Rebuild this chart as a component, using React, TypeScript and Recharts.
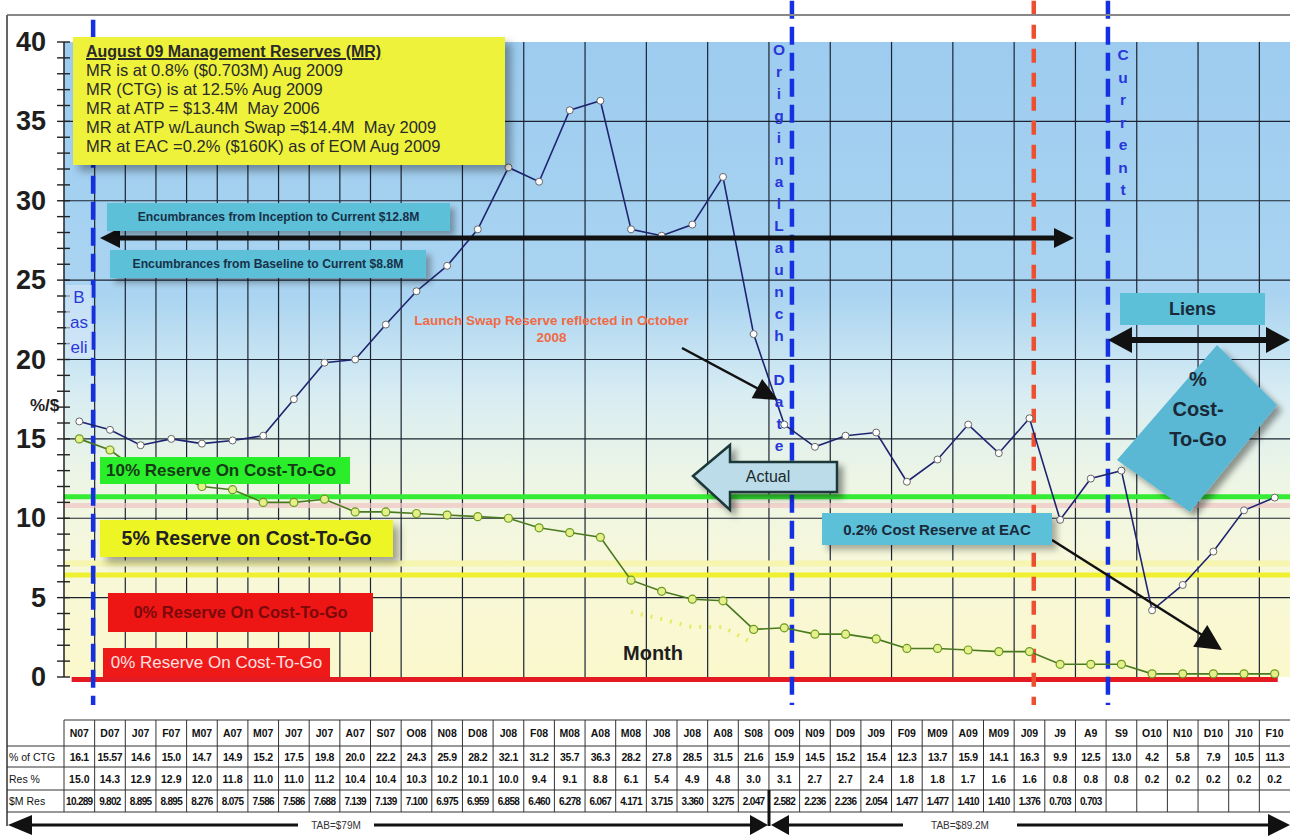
import React from 'react';
import { ComposedChart, Line, XAxis, YAxis, CartesianGrid, ReferenceLine } from 'recharts';

// month labels as printed in the table under the chart
const months = ['N07', 'D07', 'J07', 'F07', 'M07', 'A07', 'M07', 'J07', 'J07', 'A07', 'S07', 'O08', 'N08', 'D08', 'J08', 'F08', 'M08', 'A08', 'M08', 'J08', 'J08', 'A08', 'S08', 'O09', 'N09', 'D09', 'J09', 'F09', 'M09', 'A09', 'M09', 'J09', 'J9', 'A9', 'S9', 'O10', 'N10', 'D10', 'J10', 'F10'];
// % of cost-to-go
const pctCtg = [16.1, 15.57, 14.6, 15.0, 14.7, 14.9, 15.2, 17.5, 19.8, 20.0, 22.2, 24.3, 25.9, 28.2, 32.1, 31.2, 35.7, 36.3, 28.2, 27.8, 28.5, 31.5, 21.6, 15.9, 14.5, 15.2, 15.4, 12.3, 13.7, 15.9, 14.1, 16.3, 9.9, 12.5, 13.0, 4.2, 5.8, 7.9, 10.5, 11.3];
// reserve %
const resPct = [15.0, 14.3, 12.9, 12.9, 12.0, 11.8, 11.0, 11.0, 11.2, 10.4, 10.4, 10.3, 10.2, 10.1, 10.0, 9.4, 9.1, 8.8, 6.1, 5.4, 4.9, 4.8, 3.0, 3.1, 2.7, 2.7, 2.4, 1.8, 1.8, 1.7, 1.6, 1.6, 0.8, 0.8, 0.8, 0.2, 0.2, 0.2, 0.2, 0.2];
// $M reserve (blank after A9)
const resM = ['10.289', '9.802', '8.895', '8.895', '8.276', '8.075', '7.586', '7.586', '7.688', '7.139', '7.139', '7.100', '6.975', '6.959', '6.858', '6.460', '6.278', '6.067', '4.171', '3.715', '3.360', '3.275', '2.047', '2.582', '2.236', '2.236', '2.054', '1.477', '1.477', '1.410', '1.410', '1.376', '0.703', '0.703', '', '', '', '', '', ''];
// faint projected reserve line (M08..S08)
const ghostStart = 18;
const ghostRes = [4.1, 3.65, 3.15, 3.15, 2.1];

const yTicks = Array.from({ length: 41 }, (_, i) => i);
const gridY = [5, 10, 15, 20, 25, 30, 35];
const gridX = months.slice(1).map((_, i) => i + 0.5);

const data = months.map((m, i) => ({
  i,
  month: m,
  ctg: pctCtg[i],
  res: resPct[i],
  ghost: i >= ghostStart && i < ghostStart + ghostRes.length ? ghostRes[i - ghostStart] : null,
}));

const fmt = (v: number) => (v.toFixed(2).endsWith('0') ? v.toFixed(1) : v.toFixed(2));

const FONT = 'Arial, "Liberation Sans", sans-serif';
const TEAL = '#5cc0d8';

const YTick = ({ x, y, payload }: any) => (
  <g>
    <line x1={x - 7} x2={x + 6} y1={y} y2={y} stroke="#222" strokeWidth={1.4} />
    {payload.value % 5 === 0 && (
      <text x={46} y={y} dy={9} textAnchor="end" fontSize={27} fontWeight="bold" fill="#1e1e1e" fontFamily={FONT}>
        {payload.value}
      </text>
    )}
  </g>
);

function head(x1: number, y1: number, x2: number, y2: number, len: number, half: number) {
  const d = Math.hypot(x2 - x1, y2 - y1);
  const ux = (x2 - x1) / d;
  const uy = (y2 - y1) / d;
  const bx = x2 - ux * len;
  const by = y2 - uy * len;
  return `${x2},${y2} ${bx - uy * half},${by + ux * half} ${bx + uy * half},${by - ux * half}`;
}

const box = (extra: React.CSSProperties): React.CSSProperties => ({
  position: 'absolute',
  display: 'flex',
  alignItems: 'center',
  justifyContent: 'center',
  whiteSpace: 'nowrap',
  ...extra,
});

const colX = (k: number) => 64 + k * 30.65;
const rowY = [720, 746, 767, 790, 812];

export default function App() {
  const vDash = (x: number, color: string, dash: string, top = 42.6) => (
    <ReferenceLine
      segment={[{ x, y: top }, { x, y: -1.76 }]}
      stroke={color}
      strokeWidth={4.5}
      strokeDasharray={dash}
      ifOverflow="visible"
    />
  );

  return (
    <div style={{ position: 'absolute', left: 0, top: 0, width: 1290, height: 836, background: '#fff', fontFamily: FONT, overflow: 'hidden' }}>
      <div style={{ position: 'absolute', left: 0, top: 0 }}>
        <ComposedChart width={1290} height={720} data={data} margin={{ top: 42, right: 0, bottom: 43, left: 0 }}>
          <defs>
            <linearGradient id="bgGrad" x1="0" y1="0" x2="0" y2="1">
              <stop offset="0" stopColor="#9dccf0" />
              <stop offset="0.4" stopColor="#aad4f1" />
              <stop offset="0.55" stopColor="#d7ecf3" />
              <stop offset="0.68" stopColor="#ecf5e6" />
              <stop offset="0.82" stopColor="#f7f8da" />
              <stop offset="1" stopColor="#fbf8cc" />
            </linearGradient>
          </defs>
          <CartesianGrid
            fill="url(#bgGrad)"
            fillOpacity={1}
            stroke="#1c2433"
            strokeWidth={1.2}
            horizontalValues={gridY}
            verticalValues={gridX}
          />
          <XAxis type="number" dataKey="i" domain={[-0.5, 39.5]} hide />
          <YAxis
            type="number"
            domain={[0, 40]}
            ticks={yTicks}
            interval={0}
            width={64}
            tick={<YTick />}
            tickLine={false}
            tickSize={0}
            tickMargin={0}
            axisLine={{ stroke: '#222', strokeWidth: 1.5 }}
          />
          <ReferenceLine y={10.8} stroke="#f0c4c4" strokeWidth={5} strokeOpacity={0.7} />
          <ReferenceLine y={11.35} stroke="#35ec35" strokeWidth={5} />
          <ReferenceLine y={7.15} stroke="#f6f6b0" strokeWidth={6} />
          <ReferenceLine y={6.43} stroke="#eef030" strokeWidth={5} />
          <ReferenceLine
            segment={[{ x: -0.25, y: -0.15 }, { x: 39.1, y: -0.15 }]}
            stroke="#e41a22"
            strokeWidth={5}
            ifOverflow="visible"
          />
          {vDash(0.45, '#1530e0', '18 8', 41.4)}
          {vDash(23.25, '#1530e0', '18 8')}
          {vDash(31.14, '#ec5030', '14 10')}
          {vDash(33.56, '#1530e0', '18 8')}
          <Line
            dataKey="ghost"
            stroke="#e6ea60"
            strokeWidth={4}
            strokeDasharray="2 8"
            dot={false}
            connectNulls={false}
            isAnimationActive={false}
          />
          <Line
            dataKey="res"
            stroke="#4a7a20"
            strokeWidth={1.6}
            dot={{ r: 4, fill: '#e6f08a', stroke: '#6a9a20', strokeWidth: 1.2 }}
            isAnimationActive={false}
          />
          <Line
            dataKey="ctg"
            stroke="#1f2470"
            strokeWidth={1.6}
            dot={{ r: 3.5, fill: '#fff', stroke: '#666', strokeWidth: 1 }}
            isAnimationActive={false}
          />
        </ComposedChart>
      </div>

      <svg width={1290} height={836} style={{ position: 'absolute', left: 0, top: 0, pointerEvents: 'none' }}>
        <defs>
          <filter id="sh" x="-20%" y="-20%" width="150%" height="150%">
            <feDropShadow dx="5" dy="5" stdDeviation="3" floodOpacity="0.4" />
          </filter>
        </defs>
        {/* frame */}
        <line x1={7} y1={15} x2={1290} y2={15} stroke="#888" strokeWidth={2} />
        <line x1={7} y1={15} x2={7} y2={826} stroke="#666" strokeWidth={2} />

        {/* encumbrance arrow */}
        <line x1={116} y1={238} x2={1058} y2={238} stroke="#111" strokeWidth={5} />
        <polygon points={head(1058, 238, 100, 238, 20, 10)} fill="#111" />
        <polygon points={head(116, 238, 1074, 238, 20, 10)} fill="#111" />

        {/* launch swap arrow */}
        <line x1={682} y1={348} x2={770} y2={395} stroke="#111" strokeWidth={2.5} />
        <polygon points={head(682, 348, 778, 400, 24, 11)} fill="#111" />

        {/* 0.2% arrow */}
        <line x1={1052} y1={540} x2={1210} y2={640} stroke="#111" strokeWidth={2.5} />
        <polygon points={head(1052, 540, 1222, 650, 26, 13)} fill="#111" />

        {/* liens arrow */}
        <line x1={1125} y1={340} x2={1272} y2={340} stroke="#111" strokeWidth={6} />
        <polygon points={head(1200, 340, 1108, 340, 24, 13)} fill="#111" />
        <polygon points={head(1200, 340, 1290, 340, 24, 13)} fill="#111" />

        {/* actual block arrow */}
        <polygon
          points="693,476 730,445 730,462 837,462 837,492 730,492 730,510"
          fill="#bcdcea"
          stroke="#1a3838"
          strokeWidth={2.5}
          filter="url(#sh)"
        />
        <text x={768} y={482} textAnchor="middle" fontSize={16} fill="#1a2a2a" fontFamily={FONT}>Actual</text>

        {/* % cost-to-go tile */}
        <polygon points="1117,460 1217,345 1277,405 1190,512" fill="#5ab8d4" filter="url(#sh)" />

        {/* table */}
        <g fontFamily={FONT} fontWeight="bold" fill="#111">
          <line x1={colX(0)} y1={rowY[0]} x2={1290} y2={rowY[0]} stroke="#333" />
          {rowY.slice(1).map((y) => (
            <line key={y} x1={7} y1={y} x2={1290} y2={y} stroke="#333" />
          ))}
          {months.map((_, k) => (
            <line key={k} x1={colX(k)} y1={rowY[0]} x2={colX(k)} y2={rowY[4]} stroke="#333" />
          ))}
          {months.map((m, k) => (
            <text key={'m' + k} x={colX(k) + 15.3} y={737} textAnchor="middle" fontSize={10.5}>{m}</text>
          ))}
          {pctCtg.map((v, k) => (
            <text key={'c' + k} x={colX(k) + 15.3} y={761} textAnchor="middle" fontSize={10.5} letterSpacing={-0.3}>{fmt(v)}</text>
          ))}
          {resPct.map((v, k) => (
            <text key={'r' + k} x={colX(k) + 15.3} y={783} textAnchor="middle" fontSize={10.5}>{v.toFixed(1)}</text>
          ))}
          {resM.map((v, k) => (
            <text key={'s' + k} x={colX(k) + 15.3} y={805} textAnchor="middle" fontSize={10} letterSpacing={-0.7}>{v}</text>
          ))}
          <text x={9} y={761} fontSize={10.5} fontWeight="normal">% of CTG</text>
          <text x={9} y={783} fontSize={10.5} fontWeight="normal">Res %</text>
          <text x={9} y={805} fontSize={10.5} fontWeight="normal">$M Res</text>
        </g>

        {/* TAB arrows */}
        <line x1={26} y1={825} x2={298} y2={825} stroke="#111" strokeWidth={3} />
        <line x1={374} y1={825} x2={752} y2={825} stroke="#111" strokeWidth={3} />
        <polygon points={head(40, 825, 8, 825, 24, 10)} fill="#111" />
        <polygon points={head(700, 825, 768, 825, 18, 10)} fill="#111" />
        <line x1={769} y1={790} x2={769} y2={826} stroke="#111" strokeWidth={3} />
        <polygon points={head(840, 825, 771, 825, 18, 10)} fill="#111" />
        <line x1={788} y1={825} x2={903} y2={825} stroke="#111" strokeWidth={3} />
        <line x1={1017} y1={825} x2={1270} y2={825} stroke="#111" strokeWidth={3} />
        <polygon points={head(1200, 825, 1290, 825, 22, 11)} fill="#111" />
        <text x={336} y={829} textAnchor="middle" fontSize={10} fill="#333" fontFamily={FONT}>TAB=$79M</text>
        <text x={960} y={829} textAnchor="middle" fontSize={10} fill="#333" fontFamily={FONT}>TAB=$89.2M</text>
      </svg>

      {/* MR summary */}
      <div
        style={{
          position: 'absolute',
          left: 73,
          top: 37,
          width: 432,
          height: 128,
          background: '#eef23a',
          boxShadow: '6px 6px 8px rgba(0,0,0,0.35)',
          padding: '5px 0 0 13px',
          boxSizing: 'border-box',
          color: '#2a2a2a',
          fontSize: 16.5,
          lineHeight: '19px',
          whiteSpace: 'nowrap',
        }}
      >
        <div style={{ fontWeight: 'bold', fontSize: 16, textDecoration: 'underline', textDecorationThickness: 2 }}>
          August 09 Management Reserves (MR)
        </div>
        <div>MR is at 0.8% ($0.703M) Aug 2009</div>
        <div>MR (CTG) is at 12.5% Aug 2009</div>
        <div>MR at ATP = $13.4M&nbsp; May 2006</div>
        <div>MR at ATP w/Launch Swap =$14.4M&nbsp; May 2009</div>
        <div>MR at EAC =0.2% ($160K) as of EOM Aug 2009</div>
      </div>

      <div style={box({ left: 107, top: 203, width: 343, height: 28, background: TEAL, boxShadow: '5px 5px 6px rgba(0,0,0,0.3)', fontSize: 12.2, fontWeight: 'bold', color: '#183048' })}>
        Encumbrances from Inception to Current $12.8M
      </div>
      <div style={box({ left: 110, top: 250, width: 316, height: 28, background: TEAL, boxShadow: '5px 5px 6px rgba(0,0,0,0.3)', fontSize: 12.2, fontWeight: 'bold', color: '#183048' })}>
        Encumbrances from Baseline to Current $8.8M
      </div>

      {/* baseline label */}
      <div style={{ position: 'absolute', left: 66, top: 285, width: 26, height: 72, background: 'rgba(215,232,248,0.6)', color: '#2838d8', fontSize: 17, lineHeight: '25px', textAlign: 'center' }}>
        <div>B</div>
        <div>as</div>
        <div>eli</div>
      </div>

      <div style={{ position: 'absolute', left: 30, top: 396, fontSize: 17, fontWeight: 'bold', color: '#1e1e1e' }}>%/$</div>

      <div style={{ position: 'absolute', left: 380, top: 312, width: 343, textAlign: 'center', fontSize: 13.5, fontWeight: 'bold', color: '#f06a45', lineHeight: '17px' }}>
        Launch Swap Reserve reflected in October
        <br />
        2008
      </div>

      {/* vertical labels */}
      <div style={{ position: 'absolute', left: 770, top: 39, width: 18, textAlign: 'center', color: '#2838d8', fontSize: 15.5, fontWeight: 'bold', lineHeight: '22px' }}>
        {'OriginalLaunch Date'.split('').map((c, k) => (
          <div key={k} style={{ height: 22 }}>{c === ' ' ? '\u00a0' : c}</div>
        ))}
      </div>
      <div style={{ position: 'absolute', left: 1114, top: 44, width: 18, textAlign: 'center', color: '#2838d8', fontSize: 15.5, fontWeight: 'bold', lineHeight: '22.5px' }}>
        {'Current'.split('').map((c, k) => (
          <div key={k}>{c}</div>
        ))}
      </div>

      <div style={box({ left: 1120, top: 293, width: 145, height: 32, background: TEAL, fontSize: 18, fontWeight: 'bold', color: '#1a2a3a' })}>Liens</div>

      <div style={{ position: 'absolute', left: 1148, top: 364, width: 100, textAlign: 'center', fontSize: 20, fontWeight: 'bold', color: '#1a2838', lineHeight: '30px' }}>
        <div>%</div>
        <div>Cost-</div>
        <div>To-Go</div>
      </div>

      <div style={box({ left: 822, top: 513, width: 230, height: 32, background: TEAL, boxShadow: '5px 5px 6px rgba(0,0,0,0.3)', fontSize: 15, fontWeight: 'bold', color: '#1a2a3a' })}>
        0.2% Cost Reserve at EAC
      </div>

      {/* reserve level labels */}
      <div style={box({ left: 100, top: 457, width: 250, height: 27, background: '#2aee2a', fontSize: 17, fontWeight: 'bold', color: '#163a16', justifyContent: 'flex-start', paddingLeft: 6, boxSizing: 'border-box' })}>
        10% Reserve On Cost-To-Go
      </div>
      <div style={box({ left: 100, top: 520, width: 293, height: 37, background: '#eef525', boxShadow: '6px 6px 8px rgba(0,0,0,0.35)', fontSize: 19.5, fontWeight: 'bold', color: '#222' })}>
        5% Reserve on Cost-To-Go
      </div>
      <div style={box({ left: 108, top: 593, width: 265, height: 39, background: '#ee1515', fontSize: 16.5, fontWeight: 'bold', color: '#7a0a0a' })}>
        0% Reserve On Cost-To-Go
      </div>
      <div style={box({ left: 103, top: 648, width: 227, height: 29, background: '#ee1a1a', fontSize: 17, color: '#ffe0e0' })}>
        0% Reserve On Cost-To-Go
      </div>

      <div style={{ position: 'absolute', left: 623, top: 642, fontSize: 20, fontWeight: 'bold', color: '#1e1e1e' }}>Month</div>
    </div>
  );
}
